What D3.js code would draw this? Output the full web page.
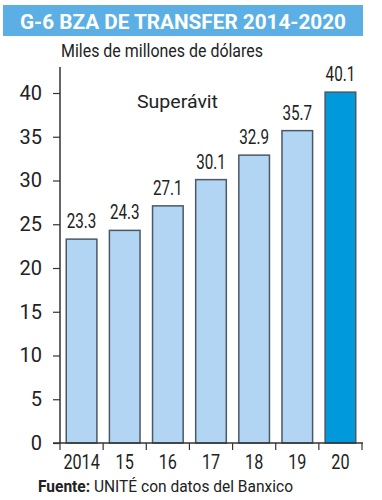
<!DOCTYPE html>
<html><head><meta charset="utf-8">
<script src="https://cdn.jsdelivr.net/npm/d3@7"></script>
<style>body{margin:0;background:#fff}svg{display:block}text{font-family:Roboto,"Noto Sans",sans-serif}</style>
</head><body>
<svg id="c" width="382" height="500"></svg>
<script>
const categories = ["2014","15","16","17","18","19","20"];
const values = [23.3,24.3,27.1,30.1,32.9,35.7,40.1];
const yTicks = [0,5,10,15,20,25,30,35,40];
const title = "G-6 BZA DE TRANSFER 2014-2020";
const subtitle = "Miles de millones de dólares";
const annotation = "Superávit";

function condense(sel,k){
  sel.each(function(){const w=this.getComputedTextLength();
    d3.select(this).attr("textLength",w*k).attr("lengthAdjust","spacingAndGlyphs");});
}

const svg = d3.select("#c");
const x = d3.scaleBand().domain(categories).range([60,362]).paddingInner(0.29).paddingOuter(0.145);
const y = d3.scaleLinear().domain([0,40]).range([443,93]);

// title bar
svg.append("rect").attr("x",3).attr("y",5).attr("width",360).attr("height",31).attr("fill","#5bafe4");
svg.append("text").attr("x",183).attr("y",29).attr("text-anchor","middle").attr("fill","#fff")
  .attr("font-weight","bold").attr("font-size",21).attr("textLength",326).attr("lengthAdjust","spacingAndGlyphs").text(title);
svg.append("text").attr("x",61).attr("y",57).attr("fill","#222").attr("font-size",18.5)
  .attr("textLength",202).attr("lengthAdjust","spacingAndGlyphs").text(subtitle);
svg.append("text").attr("x",137).attr("y",108).attr("fill","#222").attr("font-size",18.5)
  .attr("textLength",81).attr("lengthAdjust","spacingAndGlyphs").text(annotation);

// bars
svg.selectAll("rect.bar").data(values).join("rect").attr("class","bar")
  .attr("x",(d,i)=>x(categories[i])).attr("width",x.bandwidth())
  .attr("y",d=>y(d)).attr("height",d=>y(0)-y(d))
  .attr("fill",(d,i)=>i===values.length-1?"#0099dc":"#b1d5f3")
  .attr("stroke","#4b5866").attr("stroke-width",1.5);
svg.selectAll("text.val").data(values).join("text").attr("class","val")
  .attr("x",(d,i)=>x(categories[i])+x.bandwidth()/2).attr("y",d=>y(d)-11)
  .attr("text-anchor","middle").attr("font-size",19.5).attr("fill","#222").text(d=>d.toFixed(1))
  .call(condense,0.78);

// y axis
const ya = svg.append("g").attr("transform","translate(60,0)")
  .call(d3.axisLeft(y).tickValues(yTicks).tickSize(7).tickPadding(11));
ya.select(".domain").attr("d","M0,67V443").attr("stroke","#333").attr("stroke-width",1.5);
ya.selectAll(".tick line").attr("stroke","#333").attr("stroke-width",1.2);
ya.selectAll(".tick text").attr("font-size",20).attr("fill","#222").attr("font-family","Roboto");

// x axis
const xa = svg.append("g").attr("transform","translate(0,443)")
  .call(d3.axisBottom(x).tickSize(0).tickPadding(12));
xa.select(".domain").attr("d","M53,0H363").attr("stroke","#333").attr("stroke-width",1.5);
xa.selectAll(".tick text").attr("font-size",19.5).attr("fill","#222").attr("font-family","Roboto").call(condense,0.83);
const bounds = categories.map((c,i)=>x(c)-x.step()*x.paddingInner()/2).concat([362]);
bounds[0]=60;
xa.selectAll("line.sep").data(bounds).join("line").attr("class","sep")
  .attr("x1",d=>d).attr("x2",d=>d).attr("y1",0).attr("y2",7).attr("stroke","#333").attr("stroke-width",1.2);

// footer
const f = svg.append("text").attr("x",38).attr("y",492).attr("font-size",16).attr("fill","#222");
f.append("tspan").attr("font-weight","bold").text("Fuente: ");
f.append("tspan").text("UNITÉ con datos del Banxico");
f.attr("textLength",255).attr("lengthAdjust","spacingAndGlyphs");
</script></body></html>
